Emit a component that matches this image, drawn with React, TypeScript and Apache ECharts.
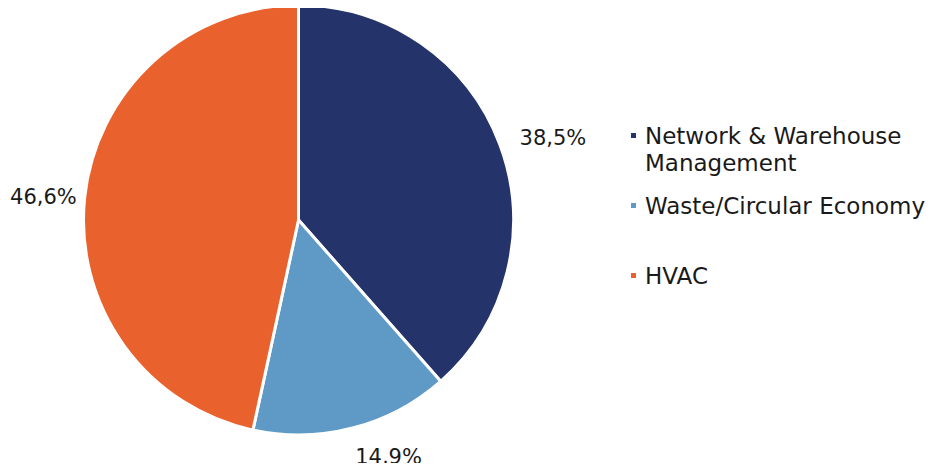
import React, { useEffect, useRef } from "react";
import * as echarts from "echarts";

const categories = ["Network & Warehouse Management", "Waste/Circular Economy", "HVAC"];
const legendLabels = ["\nNetwork & Warehouse\nManagement", "Waste/Circular Economy", "HVAC"];
const values = [38.5, 14.9, 46.6];
const colors = ["#24346a", "#5f9ac7", "#e9622d"];
const labelLineLengths = [16, 30, 3];
const labelShiftX = [0, -10, 0];
const legendTops = [95, 192, 262];

export default function App() {
  const ref = useRef<HTMLDivElement>(null);
  useEffect(() => {
    if (!ref.current) return;
    const chart = echarts.init(ref.current, null, { renderer: "svg" });
    const font = "DejaVu Sans";
    chart.setOption({
      animation: false,
      backgroundColor: "#ffffff",
      legend: categories.map((c, i) => ({
        data: [{ name: c, icon: "rect" }],
        left: 629,
        top: legendTops[i],
        padding: 0,
        itemWidth: 7,
        itemHeight: 7,
        selectedMode: false,
        formatter: () => legendLabels[i],
        textStyle: {
          fontFamily: font,
          fontSize: 23,
          color: "#1a1a1a",
          lineHeight: 27,
          padding: [0, 0, 0, 3],
        },
      })),
      series: [
        {
          type: "pie",
          center: [298.5, 220],
          radius: 215,
          startAngle: 90,
          clockwise: true,
          avoidLabelOverlap: false,
          itemStyle: { borderColor: "#ffffff", borderWidth: 3 },
          label: {
            show: true,
            position: "outside",
            fontFamily: font,
            fontSize: 21,
            color: "#1a1a1a",
            formatter: (p: any) => p.value.toFixed(1).replace(".", ",") + "%",
          },
          labelLayout: (p: any) => ({ dx: labelShiftX[p.dataIndex] }),
          emphasis: { disabled: true },
          data: categories.map((c, i) => ({
            name: c,
            value: values[i],
            itemStyle: { color: colors[i] },
            labelLine: { show: false, length: labelLineLengths[i], length2: 0 },
          })),
        },
      ],
    });
    return () => chart.dispose();
  }, []);
  return <div ref={ref} style={{ width: 935, height: 471, margin: -8 }} />;
}
